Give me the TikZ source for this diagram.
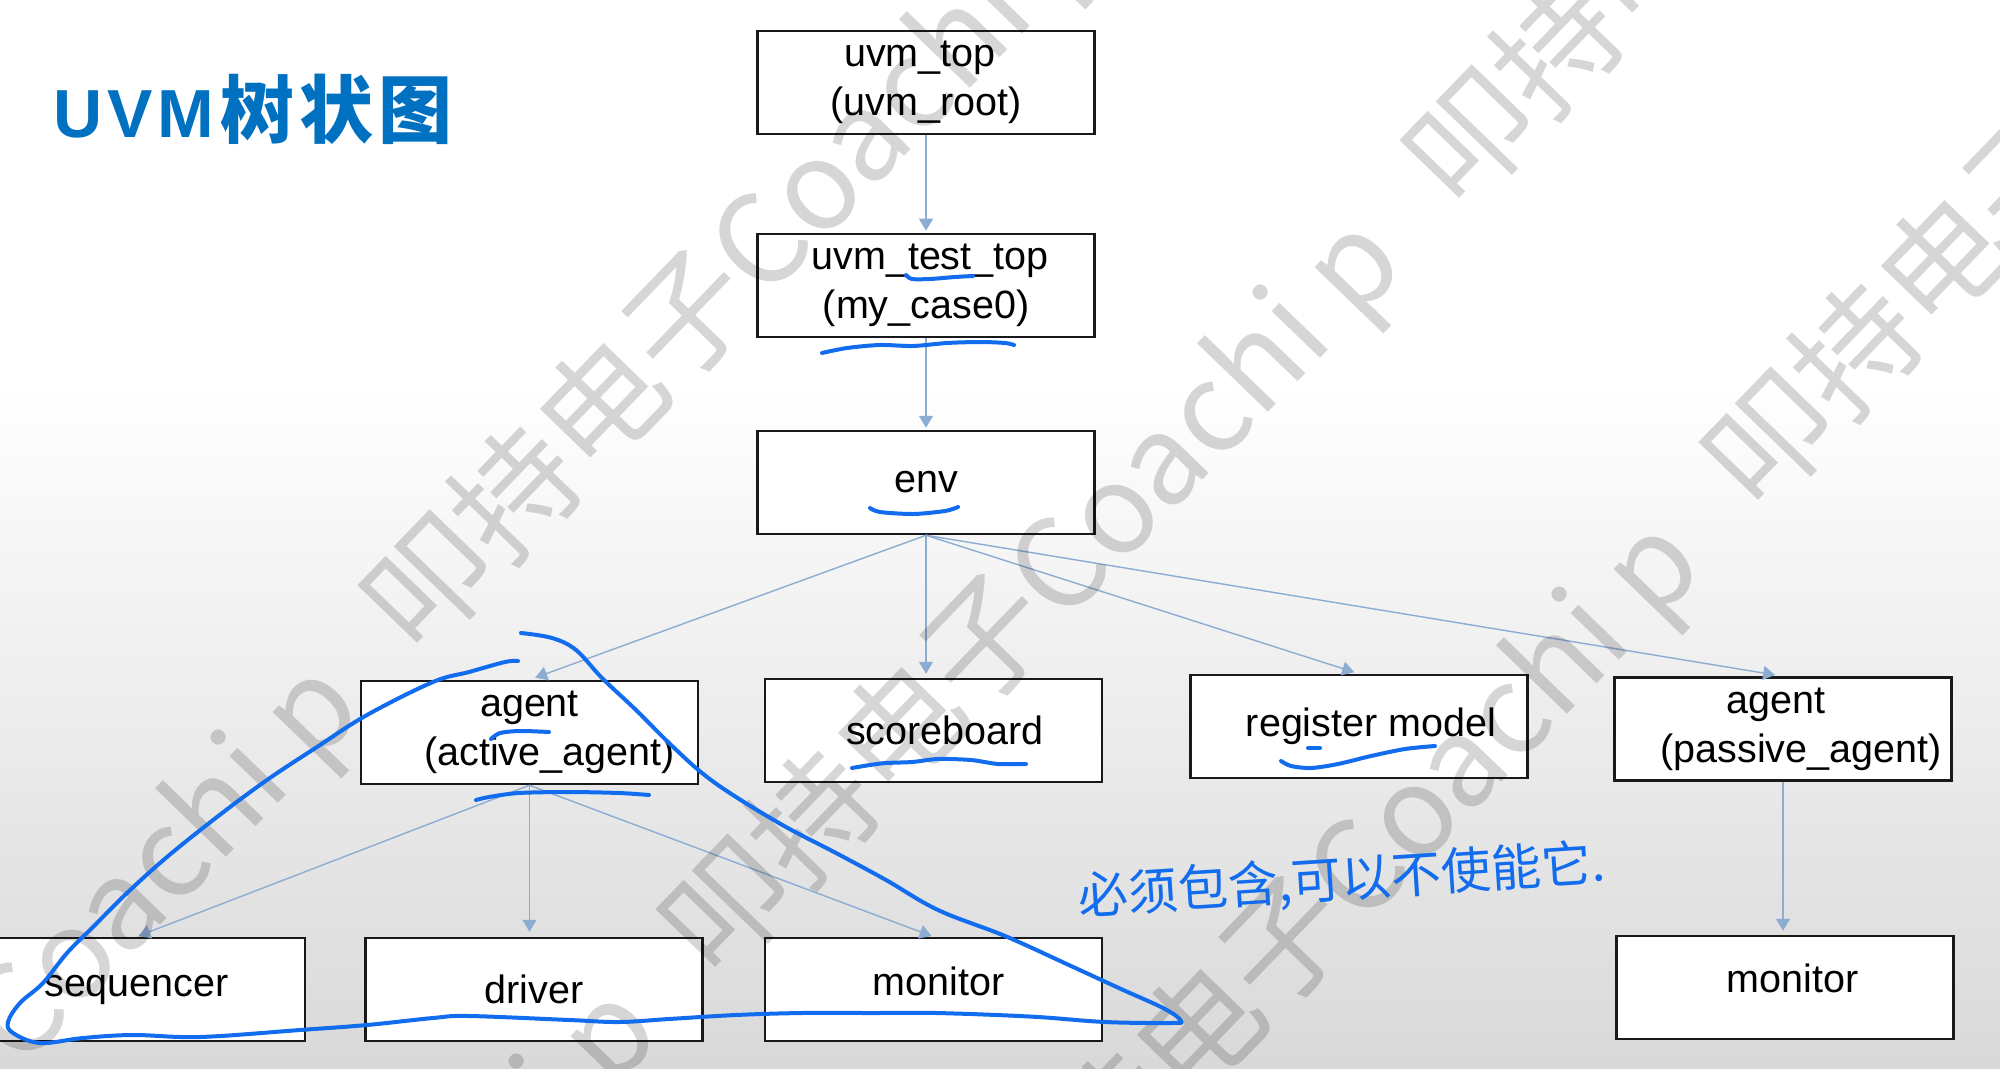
\documentclass[tikz,border=0pt]{standalone}
\usepackage{fontspec}
\setmainfont{Liberation Sans}
\newfontfamily\cjk{Noto Sans CJK SC}
\usetikzlibrary{arrows.meta}
\definecolor{titleblue}{RGB}{0,112,192}
\definecolor{connc}{RGB}{140,172,210}
\definecolor{pen}{RGB}{18,108,238}
\begin{document}
\begin{tikzpicture}[x=0.5pt,y=-0.5pt,
  box/.style={draw=black!90, line width=1.25pt, fill=white, minimum width=168.5pt,
    minimum height=51.5pt, inner sep=0pt, align=center,
    font=\fontsize{19.75pt}{24.5pt}\selectfont},
  conn/.style={draw=connc, line width=0.7pt, -{Triangle[width=7pt,length=6pt]}, shorten >=1pt},
  ink/.style={draw=pen, line width=2pt, line cap=round, line join=round},
  wm/.style={font=\cjk\fontsize{62pt}{62pt}\selectfont, text=black, opacity=0.16,
    rotate=46, anchor=west, inner sep=0pt},
]
\useasboundingbox (0,0) rectangle (2000,1069);
% background
\fill[white] (0,0) rectangle (2000,1069);
\shade[top color=white, bottom color=black!15] (0,380) rectangle (2000,1069);

% title
\node[anchor=base west, inner sep=0pt, text=titleblue] (title) at (53,138)
  {\fontsize{34pt}{34pt}\selectfont\bfseries U\hspace{2.5pt}V\hspace{2.5pt}M\hspace{3pt}{\cjk\fontsize{37pt}{37pt}\selectfont 树\hspace{2.5pt}状\hspace{2.5pt}图}};

% boxes
\node[box] (top)  at (926,82.5)  {uvm\_top\hspace*{6pt}\\(uvm\_root)};
\node[box] (test) at (926,285.5) {\hspace*{4pt}uvm\_test\_top\\(my\_case0)};
\node[box] (env)  at (926,482.5) {env};
\node[box] (agA)  at (529.5,732.5) {agent\\\hspace*{20pt}(active\_agent)};
\node[box] (sb)   at (933.5,730.5) {\hspace*{11.5pt}scoreboard};
\node[box] (reg)  at (1359,726.5) {\hspace*{12pt}register model};
\node[box] (pas)  at (1783,729)   {agent\hspace*{7pt}\\\hspace*{18pt}(passive\_agent)};
\node[box] (seq)  at (136.5,989.5) {\raisebox{-2.5pt}{sequencer}};
\node[box] (drv)  at (534,989.5)   {driver};
\node[box] (monL) at (933.5,989.5) {\hspace*{5pt}\raisebox{8pt}{monitor}};
\node[box] (monR) at (1785,987.5)  {\hspace*{7.5pt}\raisebox{9pt}{monitor}};

% connectors
\draw[conn] (top.south) -- (test.north);
\draw[conn] (test.south) -- (env.north);
\draw[conn, shorten >=3pt] (env.south) -- (agA.north);
\draw[conn, shorten >=2pt] (env.south) -- (env.south |- sb.north);
\draw[conn, shorten >=2.5pt] (env.south) -- (reg.north);
\draw[conn, shorten >=4pt] (env.south) -- (pas.north);
\draw[conn] (agA.south) -- (seq.north);
\draw[conn, shorten >=2.5pt] (agA.south) -- (agA.south |- drv.north);
\draw[conn] (agA.south) -- (monL.north);
\draw[conn, shorten >=2pt] (pas.south) -- (pas.south |- monR.north);

% watermarks
\node[wm] (wmA) at (-352,1402) {叩持电子Coachi p};
\node[wm] (wmB) at (392,633)   {叩持电子Coachi p};
\node[wm] (wmC) at (-54,1726)  {叩持电子Coachi p};
\node[wm] (wmD) at (690,957)   {叩持电子Coachi p};
\node[wm] (wmE) at (1434,188)  {叩持电子Coachi p};
\node[wm] (wmF) at (989,1259)  {叩持电子Coachi p};
\node[wm] (wmG) at (1733,490)  {叩持电子Coachi p};

% handwriting
\draw[ink] plot[smooth] coordinates {(906,275) (912,279) (930,279) (955,277) (973,276)};
\draw[ink] plot[smooth] coordinates {(822,353) (847,348) (880,345) (913,346) (947,343) (980,342) (1005,343) (1014,345)};
\draw[ink] plot[smooth] coordinates {(870,508) (880,512) (913,514) (945,511) (958,507)};
\draw[ink] plot[smooth] coordinates {(491,739) (500,733) (520,731) (549,732)};
\draw[ink] plot[smooth] coordinates {(476,800) (489,797) (519,793) (569,792) (619,793) (649,795)};
\draw[ink] plot[smooth] coordinates {(852,768) (870,765) (886,763) (912,762) (938,759) (971,760) (998,764) (1026,764)};
\draw[ink] plot[smooth] coordinates {(1281,761) (1291,766) (1311,768) (1338,764) (1371,756) (1405,749) (1435,746)};
\draw[ink] (1308,748) -- (1320,748);
\draw[ink] plot[smooth, tension=0.6] coordinates {(518,661) (505,662) (469,672) (433,682) (367,715) (317,747)
  (267,780) (217,817) (167,857) (127,893) (93,927) (67,953) (43,983) (20,1003) (8,1022) (13,1033)
  (40,1043) (83,1038) (133,1035) (200,1037) (300,1030) (367,1025) (433,1018) (469,1016) (569,1020)
  (619,1022) (669,1019) (736,1015) (802,1013) (869,1013) (938,1013) (971,1014) (1038,1017)
  (1105,1022) (1171,1023) (1181,1021) (1165,1009) (1121,989) (1071,966) (1005,936) (938,910)
  (886,880) (836,853) (786,827) (736,797) (702,773) (669,743) (636,710) (602,678) (576,650)
  (552,638) (521,633)};
\node[anchor=west, inner sep=0pt, rotate=3.7, text=pen, font=\cjk\fontsize{25pt}{25pt}\selectfont]
  (note) at (1078,898) {必须包含,可以不使能它.};
\end{tikzpicture}
\end{document}
